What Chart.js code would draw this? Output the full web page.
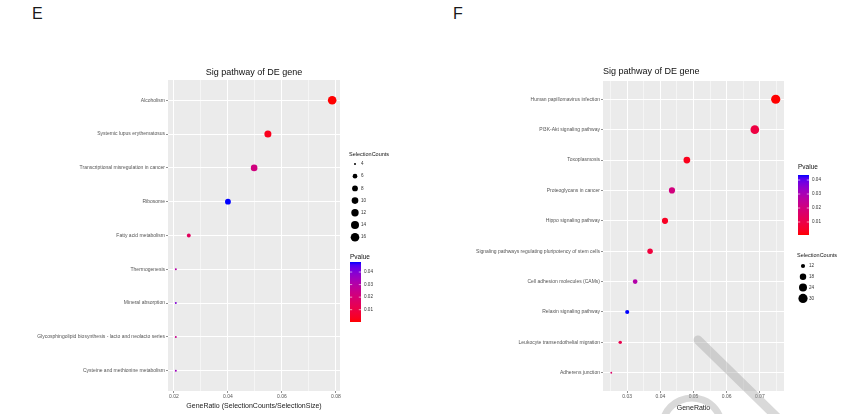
<!DOCTYPE html>
<html>
<head>
<meta charset="utf-8">
<script src="https://cdn.jsdelivr.net/npm/chart.js@4/dist/chart.umd.min.js"></script>
<style>
  html, body { margin: 0; padding: 0; background: #fff; }
  #wrap { position: relative; width: 853px; height: 414px; overflow: hidden;
          font-family: "Liberation Sans", Arial, sans-serif; }
  canvas { position: absolute; top: 0; }
  #cE { left: 0; }
  #cF { left: 430px; }
  .tag { position: absolute; font-size: 16px; line-height: 16px; color: #1a1a1a; }
</style>
</head>
<body>
<div id="wrap">
  <div class="tag" style="left:32px;top:6px">E</div>
  <div class="tag" style="left:453px;top:6px">F</div>
  <canvas id="cE" width="430" height="414"></canvas>
  <canvas id="cF" width="423" height="414"></canvas>
</div>
<script>
// ---- Panel E: enriched pathways ----
const pathwaysE = [
  "Alcoholism",
  "Systemic lupus erythematosus",
  "Transcriptional misregulation in cancer",
  "Ribosome",
  "Fatty acid metabolism",
  "Thermogenesis",
  "Mineral absorption",
  "Glycosphingolipid biosynthesis - lacto and neolacto series",
  "Cysteine and methionine metabolism"
];
const geneRatioE = [0.0786, 0.0548, 0.0497, 0.0400, 0.0255, 0.0207, 0.0207, 0.0207, 0.0207];
const countsE = [16, 11, 10, 8, 5, 4, 4, 4, 4];
const pvalueE = [0.0002, 0.003, 0.022, 0.048, 0.015, 0.030, 0.040, 0.025, 0.035];
const xTicksE = [0.02, 0.04, 0.06, 0.08];
const countBreaksE = [4, 6, 8, 10, 12, 14, 16];
const pBreaksE = [0.01, 0.02, 0.03, 0.04];

// ---- Panel F: enriched pathways ----
const pathwaysF = [
  "Human papillomavirus infection",
  "PI3K-Akt signaling pathway",
  "Toxoplasmosis",
  "Proteoglycans in cancer",
  "Hippo signaling pathway",
  "Signaling pathways regulating pluripotency of stem cells",
  "Cell adhesion molecules (CAMs)",
  "Relaxin signaling pathway",
  "Leukocyte transendothelial migration",
  "Adherens junction"
];
const geneRatioF = [0.0748, 0.0685, 0.0480, 0.0435, 0.0414, 0.0369, 0.0324, 0.0300, 0.0279, 0.0252];
const countsF = [30, 27, 19, 17, 17, 15, 13, 12, 11, 10];
const pvalueF = [0.0007, 0.009, 0.003, 0.020, 0.004, 0.008, 0.028, 0.0436, 0.011, 0.016];
const xTicksF = [0.03, 0.04, 0.05, 0.06, 0.07];
const countBreaksF = [12, 18, 24, 30];
const pBreaksF = [0.01, 0.02, 0.03, 0.04];

const FONT = '"Liberation Sans", Arial, sans-serif';
Chart.defaults.font.family = FONT;

// red -> blue gradient interpolated in CIE Lab
function toLin(c) { c /= 255; return c <= 0.04045 ? c / 12.92 : Math.pow((c + 0.055) / 1.055, 2.4); }
function toSrgb(c) {
  c = c <= 0.0031308 ? 12.92 * c : 1.055 * Math.pow(Math.max(c, 0), 1 / 2.4) - 0.055;
  return Math.round(Math.max(0, Math.min(1, c)) * 255);
}
function rgbToLab(rgb) {
  const r = toLin(rgb[0]), g = toLin(rgb[1]), b = toLin(rgb[2]);
  const x = (0.4124 * r + 0.3576 * g + 0.1805 * b) / 0.95047;
  const y = 0.2126 * r + 0.7152 * g + 0.0722 * b;
  const z = (0.0193 * r + 0.1192 * g + 0.9505 * b) / 1.08883;
  const f = t => t > 0.008856 ? Math.cbrt(t) : 7.787 * t + 16 / 116;
  const fx = f(x), fy = f(y), fz = f(z);
  return [116 * fy - 16, 500 * (fx - fy), 200 * (fy - fz)];
}
function labToRgb(lab) {
  const fy = (lab[0] + 16) / 116, fx = fy + lab[1] / 500, fz = fy - lab[2] / 200;
  const fi = t => { const t3 = t * t * t; return t3 > 0.008856 ? t3 : (t - 16 / 116) / 7.787; };
  const x = fi(fx) * 0.95047, y = fi(fy), z = fi(fz) * 1.08883;
  return [
    toSrgb(3.2406 * x - 1.5372 * y - 0.4986 * z),
    toSrgb(-0.9689 * x + 1.8758 * y + 0.0415 * z),
    toSrgb(0.0557 * x - 0.2040 * y + 1.0570 * z)
  ];
}
const LAB_LOW = rgbToLab([255, 0, 0]);
const LAB_HIGH = rgbToLab([0, 0, 255]);
function gradColour(t) {
  t = Math.max(0, Math.min(1, t));
  const lab = LAB_LOW.map((v, i) => v + (LAB_HIGH[i] - v) * t);
  const c = labToRgb(lab);
  return `rgb(${c[0]},${c[1]},${c[2]})`;
}

function withMinors(majors, lo, hi) {
  const step = majors[1] - majors[0];
  const out = majors.map(v => ({ value: v, main: true }));
  for (let i = -1; i < majors.length; i++) {
    const m = majors[0] + step * (i + 0.5);
    if (m > lo && m < hi) out.push({ value: m, main: false });
  }
  return out.sort((a, b) => a.value - b.value);
}

function makeChart(id, cfg) {
  const n = cfg.cats.length;
  const cMin = Math.min(...cfg.counts), cMax = Math.max(...cfg.counts);
  const pMin = Math.min(...cfg.pval), pMax = Math.max(...cfg.pval);
  const rOf = c => cfg.rMin + (cfg.rMax - cfg.rMin) * Math.sqrt(Math.max(0, (c - cMin) / (cMax - cMin)));
  const colOf = p => gradColour((p - pMin) / (pMax - pMin));
  const xTickList = withMinors(cfg.xTicks, cfg.xMin, cfg.xMax);

  const panelBg = {
    id: 'panelBg',
    beforeDraw(chart) {
      const a = chart.chartArea, ctx = chart.ctx;
      ctx.save();
      ctx.fillStyle = '#EBEBEB';
      ctx.fillRect(a.left, a.top, a.right - a.left, a.bottom - a.top);
      ctx.restore();
    }
  };

  const annotations = {
    id: 'annotations',
    afterDraw(chart) {
      const a = chart.chartArea, ctx = chart.ctx;
      ctx.save();
      // panel title
      ctx.fillStyle = '#111';
      ctx.font = `9px ${FONT}`;
      ctx.textBaseline = 'middle';
      if (cfg.titleAlign === 'center') {
        ctx.textAlign = 'center';
        ctx.fillText('Sig pathway of DE gene', (a.left + a.right) / 2, cfg.titleY);
      } else {
        ctx.textAlign = 'left';
        ctx.fillText('Sig pathway of DE gene', a.left, cfg.titleY);
      }
      // x axis title
      ctx.font = `7px ${FONT}`;
      ctx.textAlign = 'center';
      ctx.fillStyle = '#222';
      ctx.fillText(cfg.xTitle, (a.left + a.right) / 2, cfg.xTitleY);

      // size key
      const sk = cfg.sizeKey;
      ctx.textAlign = 'left';
      ctx.fillStyle = '#111';
      ctx.font = `5.5px ${FONT}`;
      ctx.fillText('SelectionCounts', sk.x, sk.titleY);
      ctx.font = `4.6px ${FONT}`;
      cfg.countBreaks.forEach((c, i) => {
        const y = sk.y0 + i * sk.dy;
        ctx.fillStyle = '#000';
        ctx.beginPath();
        ctx.arc(sk.x + 6, y, rOf(c), 0, Math.PI * 2);
        ctx.fill();
        ctx.fillStyle = '#333';
        ctx.fillText(String(c), sk.x + 12, y);
      });

      // colour key
      const pk = cfg.pKey;
      ctx.fillStyle = '#111';
      ctx.font = `6.5px ${FONT}`;
      ctx.fillText('Pvalue', pk.x, pk.titleY);
      const g = ctx.createLinearGradient(0, pk.bottom, 0, pk.top);
      for (let k = 0; k <= 20; k++) g.addColorStop(k / 20, gradColour(k / 20));
      ctx.fillStyle = g;
      ctx.fillRect(pk.x, pk.top, pk.w, pk.bottom - pk.top);
      ctx.font = `4.6px ${FONT}`;
      cfg.pBreaks.forEach(p => {
        const y = pk.bottom - (p - pMin) / (pMax - pMin) * (pk.bottom - pk.top);
        ctx.strokeStyle = '#fff';
        ctx.lineWidth = 0.6;
        ctx.beginPath();
        ctx.moveTo(pk.x, y); ctx.lineTo(pk.x + 2.2, y);
        ctx.moveTo(pk.x + pk.w - 2.2, y); ctx.lineTo(pk.x + pk.w, y);
        ctx.stroke();
        ctx.fillStyle = '#333';
        ctx.fillText(p.toFixed(2), pk.x + pk.w + 3, y);
      });

      // proof stamp
      if (cfg.stamp) {
        const s = cfg.stamp;
        ctx.strokeStyle = 'rgba(165,165,165,0.42)';
        ctx.lineCap = 'round';
        ctx.lineWidth = 9;
        ctx.beginPath();
        ctx.moveTo(s.x1, s.y1); ctx.lineTo(s.x2, s.y2);
        ctx.stroke();
        ctx.lineWidth = 7;
        ctx.beginPath();
        ctx.arc(s.cx, s.cy, s.r, Math.PI * 1.12, Math.PI * 1.95);
        ctx.stroke();
      }
      ctx.restore();
    }
  };

  const data = cfg.ratio.map((x, i) => ({ x, y: i, r: rOf(cfg.counts[i]) }));

  return new Chart(document.getElementById(id), {
    type: 'bubble',
    data: {
      datasets: [{
        data,
        backgroundColor: cfg.pval.map(colOf),
        borderWidth: 0,
        hoverBorderWidth: 0,
        clip: false
      }]
    },
    options: {
      responsive: false,
      animation: false,
      events: [],
      layout: { padding: { left: 0, top: cfg.areaTop, right: cfg.padRight, bottom: 0 } },
      plugins: { legend: { display: false }, tooltip: { enabled: false }, title: { display: false } },
      scales: {
        x: {
          type: 'linear',
          min: cfg.xMin,
          max: cfg.xMax,
          afterBuildTicks: s => { s.ticks = xTickList.map(t => ({ value: t.value, main: t.main })); },
          afterFit: s => { s.height = cfg.xAxisH; },
          border: { display: false },
          grid: {
            color: '#FFFFFF',
            lineWidth: c => (c.tick && c.tick.main) ? 1 : 0.5,
            drawTicks: true,
            tickLength: 2,
            tickColor: c => (c.tick && c.tick.main) ? '#444' : 'rgba(0,0,0,0)',
            tickWidth: 0.6
          },
          ticks: {
            autoSkip: false,
            maxRotation: 0,
            padding: 1,
            color: '#555',
            font: { size: 5 },
            callback: (v, i, ticks) => ticks[i].main ? Number(v).toFixed(2) : ''
          }
        },
        y: {
          type: 'linear',
          reverse: true,
          min: -0.6,
          max: n - 1 + 0.6,
          afterBuildTicks: s => { s.ticks = cfg.cats.map((c, i) => ({ value: i })); },
          afterFit: s => { s.width = cfg.yAxisW; },
          border: { display: false },
          grid: {
            color: '#FFFFFF',
            lineWidth: 1,
            drawTicks: true,
            tickLength: 2,
            tickColor: '#444',
            tickWidth: 0.6
          },
          ticks: {
            autoSkip: false,
            padding: 1,
            color: '#555',
            font: { size: 5 },
            callback: v => cfg.cats[Math.round(v)]
          }
        }
      }
    },
    plugins: [panelBg, annotations]
  });
}

makeChart('cE', {
  cats: pathwaysE, ratio: geneRatioE, counts: countsE, pval: pvalueE,
  xTicks: xTicksE, xMin: 0.0178, xMax: 0.0815,
  countBreaks: countBreaksE, pBreaks: pBreaksE,
  rMin: 1.0, rMax: 4.3,
  areaTop: 80, padRight: 90, yAxisW: 168, xAxisH: 23,
  titleAlign: 'center', titleY: 73,
  xTitle: 'GeneRatio (SelectionCounts/SelectionSize)', xTitleY: 406,
  sizeKey: { x: 349, titleY: 154, y0: 164, dy: 12.2 },
  pKey: { x: 350, titleY: 257, top: 262, bottom: 322, w: 11 }
});

makeChart('cF', {
  cats: pathwaysF, ratio: geneRatioF, counts: countsF, pval: pvalueF,
  xTicks: xTicksF, xMin: 0.0227, xMax: 0.0773,
  countBreaks: countBreaksF, pBreaks: pBreaksF,
  rMin: 0.9, rMax: 4.6,
  areaTop: 81, padRight: 69, yAxisW: 173, xAxisH: 23,
  titleAlign: 'left', titleY: 72,
  xTitle: 'GeneRatio', xTitleY: 408,
  sizeKey: { x: 367, titleY: 255, y0: 266, dy: 10.8 },
  pKey: { x: 368, titleY: 167, top: 175, bottom: 235, w: 11 },
  stamp: { x1: 268, y1: 340, x2: 360, y2: 430, cx: 262, cy: 428, r: 30 }
});
</script>
</body>
</html>
